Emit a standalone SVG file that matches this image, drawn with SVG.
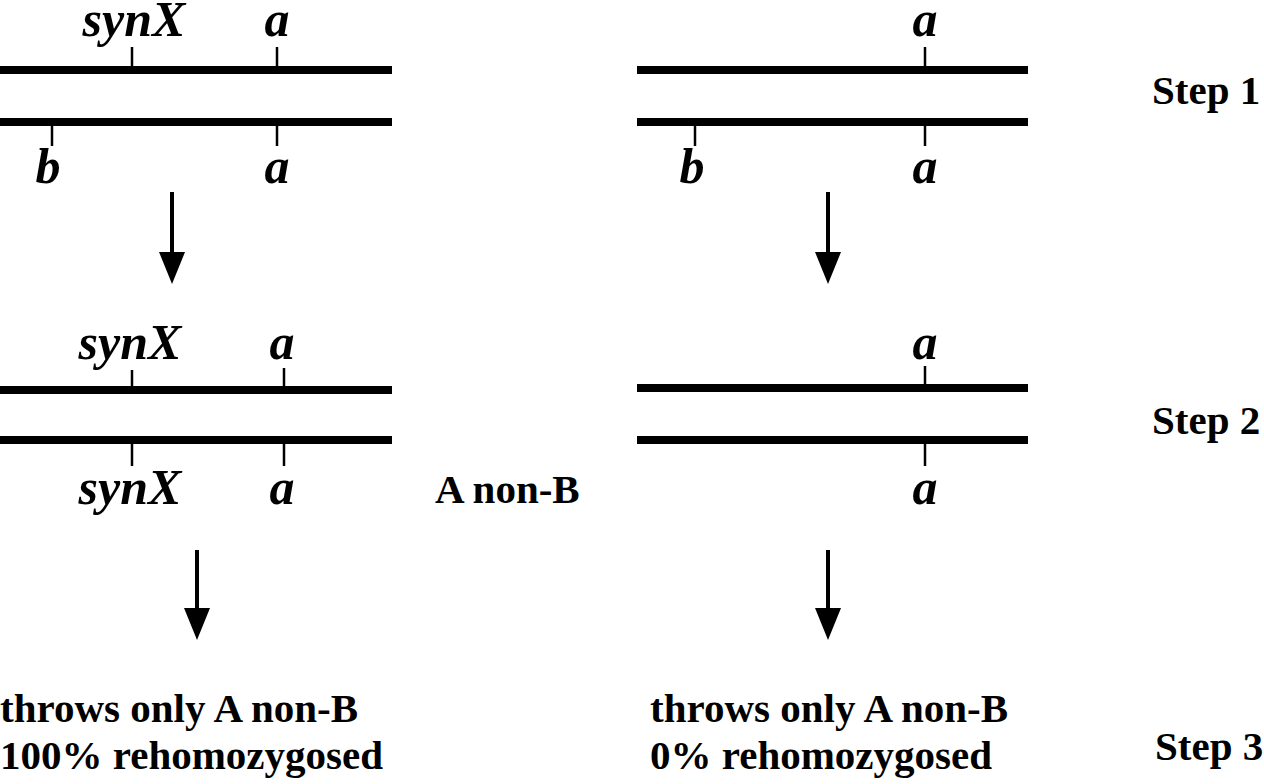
<svg xmlns="http://www.w3.org/2000/svg" width="1264" height="784" viewBox="0 0 1264 784">
<style>
.chr{stroke:#000;stroke-width:8;fill:none}
.tick{stroke:#000;stroke-width:2.5;fill:none}
.lbl{font-family:"Liberation Serif","Times New Roman",serif;font-weight:bold;font-style:italic;font-size:50px;fill:#000;text-anchor:middle}
.txt{font-family:"Liberation Serif","Times New Roman",serif;font-weight:bold;font-size:41px;fill:#000}
.shaft{stroke:#000;stroke-width:4;fill:none}
</style>
<defs>
<marker id="ah" markerUnits="userSpaceOnUse" markerWidth="32" markerHeight="26" refX="6" refY="13" orient="auto" viewBox="0 0 32 26">
<path d="M0,0 L32,13 L0,26 Z" fill="#000"/>
</marker>
</defs>
<rect width="1264" height="784" fill="#fff"/>
<g id="left-step1">
<line class="chr" x1="0" y1="70" x2="392" y2="70"/>
<line class="chr" x1="0" y1="122" x2="392" y2="122"/>
<line class="tick" x1="132" y1="47" x2="132" y2="66"/>
<line class="tick" x1="277" y1="47" x2="277" y2="66"/>
<line class="tick" x1="52" y1="126" x2="52" y2="146"/>
<line class="tick" x1="277" y1="126" x2="277" y2="146"/>
<text class="lbl" x="134" y="36">synX</text>
<text class="lbl" x="277" y="36">a</text>
<text class="lbl" x="48" y="183">b</text>
<text class="lbl" x="277" y="183">a</text>
</g>
<g id="right-step1">
<line class="chr" x1="637" y1="70" x2="1028" y2="70"/>
<line class="chr" x1="637" y1="122" x2="1028" y2="122"/>
<line class="tick" x1="925" y1="47" x2="925" y2="66"/>
<line class="tick" x1="695" y1="126" x2="695" y2="146"/>
<line class="tick" x1="925" y1="126" x2="925" y2="146"/>
<text class="lbl" x="925" y="36">a</text>
<text class="lbl" x="692" y="183">b</text>
<text class="lbl" x="925" y="183">a</text>
</g>
<g id="step1-label"><text class="txt" x="1152" y="104">Step 1</text></g>
<g id="left-step2">
<line class="chr" x1="0" y1="390" x2="392" y2="390"/>
<line class="chr" x1="0" y1="440" x2="392" y2="440"/>
<line class="tick" x1="132" y1="370" x2="132" y2="386"/>
<line class="tick" x1="284" y1="368" x2="284" y2="386"/>
<line class="tick" x1="132" y1="444" x2="132" y2="466"/>
<line class="tick" x1="284" y1="444" x2="284" y2="466"/>
<text class="lbl" x="130" y="359">synX</text>
<text class="lbl" x="282" y="359">a</text>
<text class="lbl" x="130" y="504">synX</text>
<text class="lbl" x="282" y="504">a</text>
</g>
<g id="anonb-label"><text class="txt" x="435" y="503">A non-B</text></g>
<g id="right-step2">
<line class="chr" x1="637" y1="388" x2="1028" y2="388"/>
<line class="chr" x1="637" y1="440" x2="1028" y2="440"/>
<line class="tick" x1="925" y1="366" x2="925" y2="384"/>
<line class="tick" x1="925" y1="444" x2="925" y2="466"/>
<text class="lbl" x="925" y="359">a</text>
<text class="lbl" x="925" y="504">a</text>
</g>
<g id="step2-label"><text class="txt" x="1152" y="434">Step 2</text></g>
<g id="left-result">
<text class="txt" x="0" y="722">throws only A non-B</text>
<text class="txt" x="0" y="769">100% rehomozygosed</text>
</g>
<g id="right-result">
<text class="txt" x="650" y="722">throws only A non-B</text>
<text class="txt" x="650" y="769">0% rehomozygosed</text>
</g>
<g id="step3-label"><text class="txt" x="1155" y="760">Step 3</text></g>
<g id="connectors">
<line class="shaft" x1="172" y1="192" x2="172" y2="258" marker-end="url(#ah)"/>
<line class="shaft" x1="828" y1="192" x2="828" y2="258" marker-end="url(#ah)"/>
<line class="shaft" x1="197" y1="550" x2="197" y2="614" marker-end="url(#ah)"/>
<line class="shaft" x1="828" y1="550" x2="828" y2="614" marker-end="url(#ah)"/>
</g>
</svg>
